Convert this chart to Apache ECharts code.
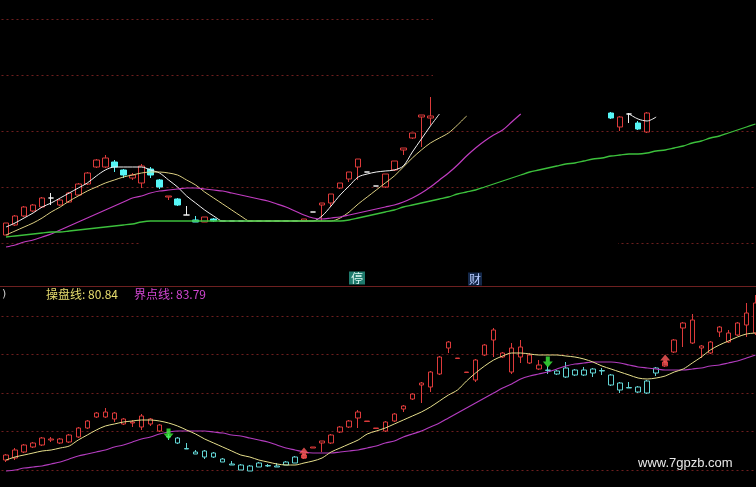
<!DOCTYPE html>
<html><head><meta charset="utf-8">
<script src="https://cdn.jsdelivr.net/npm/echarts@6/dist/echarts.min.js"></script>
<style>html,body{margin:0;padding:0;background:#000;}#c{width:756px;height:487px;}</style>
</head><body><div id="c"></div>
<script>
// ---- data ----
const categories = Array.from({length: 84}, (_, i) => 'K' + (i + 1));

// top panel candles [open, close, low, high]
const topCandles = [
 [8,20,8,20],[18,27,17,28],[27,36,26,37],[32,38,31,39],[36,45,35,46],[45,45,38,50],
 [38,43,37,44],[41,50,40,51],[48,59,47,60],[59,70,58,71],[76,83,75,84],[76,85,75,88],
 [81,76,71,83],[73,68,65,74],[65,68,63,70],[60,77,55,79],[74,68,65,76],[63,56,54,64],
 [46,47,43,47],[44,38,37,45],[28,28,28,37],[23,21,21,27],[21,26,21,26],[24,22,21,25],
 [22,22,22,22],[22,22,22,22],[22,22,22,22],[22,22,22,22],[22,22,22,22],[22,22,22,22],
 [22,22,22,22],[22,22,22,22],[22,22,22,22],
 [22,24,22,24],[31,31,31,31],[38,40,22,40],[40,49,36,49],[55,60,54,60],[64,71,61,71],
 [76,84,63,84],[71,71,71,71],[57,57,57,57],[56,69,55,69],[73,82,72,82],[93,95,88,95],
 [105,110,104,110],[126,128,96,128],[125,127,118,146],
 null,null,null,null,null,null,null,null,null,null,null,null,null,null,null,null,null,null,null,
 [130,125,124,131],[116,126,112,127],[129,129,120,130],[120,114,113,122],[111,130,110,131],
 null,null,null,null,null,null,null,null,null,null,null,null
];
const topWhite = [16,20,25,30,36,40,45,50,55,60,67,73,76,76,76,76,73,70,63,56,47,40,33,27,22,
 22,22,22,22,22,22,22,22,22,22,27,37,48,57,66,69,71,72,73,77,91,104,117,129,
 null,null,null,null,null,null,null,null,null,null,null,null,null,null,null,null,null,null,null,null,
 129,124,122,126,
 null,null,null,null,null,null,null,null,null,null,null];
const topYellow = [8,12,16,20,25,31,36,42,47,52,56,60,63,66,68,70,71,71,70,68,63,58,51,45,39,33,27,22,
 22,22,22,22,22,22,22,22,22,
 25,31,39,46,53,60,67,76,85,93,100,105,110,118,127,
 null,null,null,null,null,null,null,null,null,null,null,null,null,null,null,null,
 null,null,null,null,null,null,null,null,null,null,null,null,null,null,null,null];
const topMagenta = [-4,-2,1,3,6,9,13,17,21,25,29,33,37,41,45,47,50,52,53,54,55,55,54,53,52,50,48,46,
 44,42,39,36,32,28,25,24,25,26,28,30,32,34,36,38,41,45,50,56,63,70,78,87,95,102,108,113,121,129,
 null,null,null,null,null,null,null,null,null,null,null,null,null,
 null,null,null,null,null,null,null,null,null,null,null,null,null];
const topGreen = [6,7,8,9,10,11,11,12,13,14,15,16,17,18,19,21,
 22,22,22,22,22,22,22,22,22,22,22,22,22,22,22,22,22,22,22,22,
 22,22,23,25,27,29,31,33,36,38,40,42,44,46,49,51,53,56,59,62,65,68,71,73,75,77,79,80,82,84,85,
 87,88,89,89,90,92,93,95,97,100,102,105,107,110,113,116,119];

// bottom indicator candles [open, close, low, high]
const lowCandles = [
 [10,15,8,16],[12,20,10,22],[18,25,17,26],[23,27,22,28],[25,32,24,33],[30,31,28,33],
 [27,31,26,32],[28,35,27,36],[33,42,32,43],[42,49,41,50],[53,57,52,58],[53,58,52,62],
 [51,57,48,58],[46,51,45,52],[47,48,43,50],[43,54,40,56],[46,51,44,52],[39,45,38,46],
 [33.5,33,30,36],[32,27,26,33],[21.5,21,21,27],[18,16,16,20],[19,13,11,20],[17,13,12,18],
 [11,8,8,12],[6,5,5,9],[5,0,0,6],[4,-1,-1,5],[7,3,3,8],[4.5,4,3,6],
 [4,3,3,7],[8,5,5,9],[13,7,7,14],[12,15,11,16],[22,23,22,23],[27,29,18,29],
 [27,35,26,36],[38,43,37,44],[43,49,42,50],[52,58,42,60],[48.5,49,48.5,49],[41.5,42,41.5,42],
 [39,48,38,49],[49,56,48,57],[61,64,58,65],[71,76,70,77],[85,87,67,88],[83,98,78,99],
 [96,113,95,114],[122,128,117,129],[111.5,112,111.5,112],[97.5,98,97.5,98],[90,110,88,111],[115,125,114,126],
 [130,140,113,142],[113,117,112,118],[98,122,96,127],[113,123,107,130],[107,115,106,117],[101,105,100,110],
 [100,99.5,96,104],[99,96,95,100],[102,93,92,108],[100,95,94,101],[100,95,94,103],[101,97,93,102],
 [99.5,99,95,102],[95,85,84,96],[87,80,77,88],[82.5,82,82,88],[83,78,77,84],[89,77,76,90],
 [102,97,94,103],[104,108,103,109],[118,130,117,131],[142,147,123,148],[127,150,126,156],[122,124,112,125],
 [117,128,116,129],[138,143,133,144],[128,137,127,140],[135,147,134,148],[145,157,133,167],[137,167,135,175]
];
// 操盘线 (yellow) and 界点线 (magenta)
const caoPanLine = [10,13,15,17,19,20,22,24,30,35,40,44,46,48,49,50,50,49,47,44,40,36,31,27,23,19,15,13,
 10,8,6,5,5,7,9,12,18,22,26,30,36,39,42,46,50,54,58,63,69,75,80,89,97,104,110,114,117,117,
 116,115,115,115,114,113,111,108,104,101,98,95,92,91,92,94,98,101,107,113,120,125,129,133,136,137];
const jieDianLine = [-1,0,2,3,4,6,8,11,14,16,18,20,23,25,28,31,33,36,38,39,39,39,39,38,37,35,34,32,
 30,28,25,22,20,18,17,17,17,18,19,20,22,24,27,29,33,36,39,43,47,52,57,62,67,72,77,82,86,91,
 94,96,98,101,104,106,107,108,108,108,107,105,103,102,101,100,100,100,101,102,104,105,107,109,112,115];
// signal arrows [index, value]
const sellSignals = [[18,36],[60,108]];
const buySignals = [[33,17],[73,110]];
const caoPanLabel = '操盘线: 80.84';
const jieDianLabel = '界点线: 83.79';

// ---- chart ----
const RED = '#dc3a3a', CYAN = '#56f6f6', CYAN2 = '#62d4d4', WHITE = '#f0f0f0';
function toItems(arr) {
  return arr.map(v => {
    if (!v) return ['-','-','-','-'];
    if (v[0] === v[1]) return {value: v, itemStyle: {color: WHITE, color0: WHITE, borderColor: WHITE, borderColor0: WHITE}};
    return v;
  });
}
const dotted = {show: true, lineStyle: {color: '#6e1e1e', type: [2, 3], width: 1}};
const chart = echarts.init(document.getElementById('c'), null, {renderer: 'canvas'});
const lineBase = {type: 'line', symbol: 'none', smooth: 0.3, clip: false, connectNulls: false, z: 3};
chart.setOption({
  backgroundColor: '#000',
  animation: false,
  grid: [
    {left: 1.5, width: 758.5, top: 19, height: 224, outerBoundsMode: 'none'},
    {left: 1.5, width: 758.5, top: 316, height: 154, outerBoundsMode: 'none'}
  ],
  xAxis: [0, 1].map(g => ({type: 'category', gridIndex: g, data: categories, boundaryGap: true, show: false})),
  yAxis: [
    {type: 'value', gridIndex: 0, min: 0, max: 224, interval: 56, axisLine: {show: false}, axisTick: {show: false}, axisLabel: {show: false}, splitLine: dotted},
    {type: 'value', gridIndex: 1, min: 0, max: 154, interval: 38.5, axisLine: {show: false}, axisTick: {show: false}, axisLabel: {show: false}, splitLine: dotted}
  ],
  series: [
    {type: 'candlestick', xAxisIndex: 0, yAxisIndex: 0, data: toItems(topCandles), barWidth: 6, clip: false,
     itemStyle: {color: '#000', color0: CYAN, borderColor: RED, borderColor0: CYAN, borderWidth: 1}},
    Object.assign({}, lineBase, {xAxisIndex: 0, yAxisIndex: 0, data: topWhite, lineStyle: {color: '#f2f2f2', width: 1}}),
    Object.assign({}, lineBase, {xAxisIndex: 0, yAxisIndex: 0, data: topYellow, lineStyle: {color: '#dccf82', width: 1}}),
    Object.assign({}, lineBase, {xAxisIndex: 0, yAxisIndex: 0, data: topMagenta, lineStyle: {color: '#c03cc0', width: 1.2}}),
    Object.assign({}, lineBase, {xAxisIndex: 0, yAxisIndex: 0, data: topGreen, lineStyle: {color: '#3cc03c', width: 1.3}}),
    {type: 'candlestick', xAxisIndex: 1, yAxisIndex: 1, data: lowCandles, barWidth: 5, clip: false,
     itemStyle: {color: '#000', color0: '#000', borderColor: RED, borderColor0: CYAN2, borderWidth: 1}},
    Object.assign({}, lineBase, {xAxisIndex: 1, yAxisIndex: 1, data: jieDianLine, lineStyle: {color: '#b23cbe', width: 1.2}}),
    Object.assign({}, lineBase, {xAxisIndex: 1, yAxisIndex: 1, data: caoPanLine, lineStyle: {color: '#e6df8c', width: 1}}),
    {type: 'scatter', xAxisIndex: 1, yAxisIndex: 1, data: sellSignals, clip: false, z: 4,
     symbol: 'path://M3,0 L7,0 L7,5 L10,5 L5,11 L0,5 L3,5 Z', symbolSize: [10, 11],
     itemStyle: {color: '#3cf03c'}},
    {type: 'scatter', xAxisIndex: 1, yAxisIndex: 1, data: buySignals, clip: false, z: 4,
     symbol: 'path://M5,0 L10,6 L7,6 L7,11 L3,11 L3,6 L0,6 Z', symbolSize: [10, 11],
     itemStyle: {color: '#ff5a5a'}}
  ],
  graphic: [
    {type: 'rect', z: 1, shape: {x: 433, y: 0, width: 330, height: 112}, style: {fill: '#000'}},
    {type: 'rect', z: 1, shape: {x: 141, y: 239, width: 477, height: 8}, style: {fill: '#000'}},
    {type: 'line', z: 1, shape: {x1: 0, y1: 286.5, x2: 756, y2: 286.5}, style: {stroke: '#6e2020', lineWidth: 1}},
    {type: 'text', z: 5, x: 2, y: 294, style: {text: ')', fill: '#cccccc', font: '11px "DejaVu Sans"', verticalAlign: 'middle'}},
    {type: 'text', z: 5, x: 46, y: 294, style: {text: caoPanLabel, fill: '#e6dc6e', font: '12px "Noto Sans CJK SC"', verticalAlign: 'middle'}},
    {type: 'text', z: 5, x: 134, y: 294, style: {text: jieDianLabel, fill: '#d046d0', font: '12px "Noto Sans CJK SC"', verticalAlign: 'middle'}},
    {type: 'text', z: 5, x: 349, y: 278, style: {text: '停', fill: '#d8f4ee', backgroundColor: '#1e7a6c', padding: [1, 2, 0, 2], font: '12px "Noto Sans CJK SC"', verticalAlign: 'middle'}},
    {type: 'text', z: 5, x: 468, y: 279, style: {text: '财', fill: '#b8ccff', backgroundColor: '#14284a', padding: [1, 1, 0, 1], font: '12px "Noto Sans CJK SC"', verticalAlign: 'middle'}},
    {type: 'text', z: 5, x: 638, y: 463, style: {text: 'www.7gpzb.com', fill: '#e8e8e8', font: '13px "Liberation Sans"', verticalAlign: 'middle'}}
  ]
});
</script>
</body></html>
